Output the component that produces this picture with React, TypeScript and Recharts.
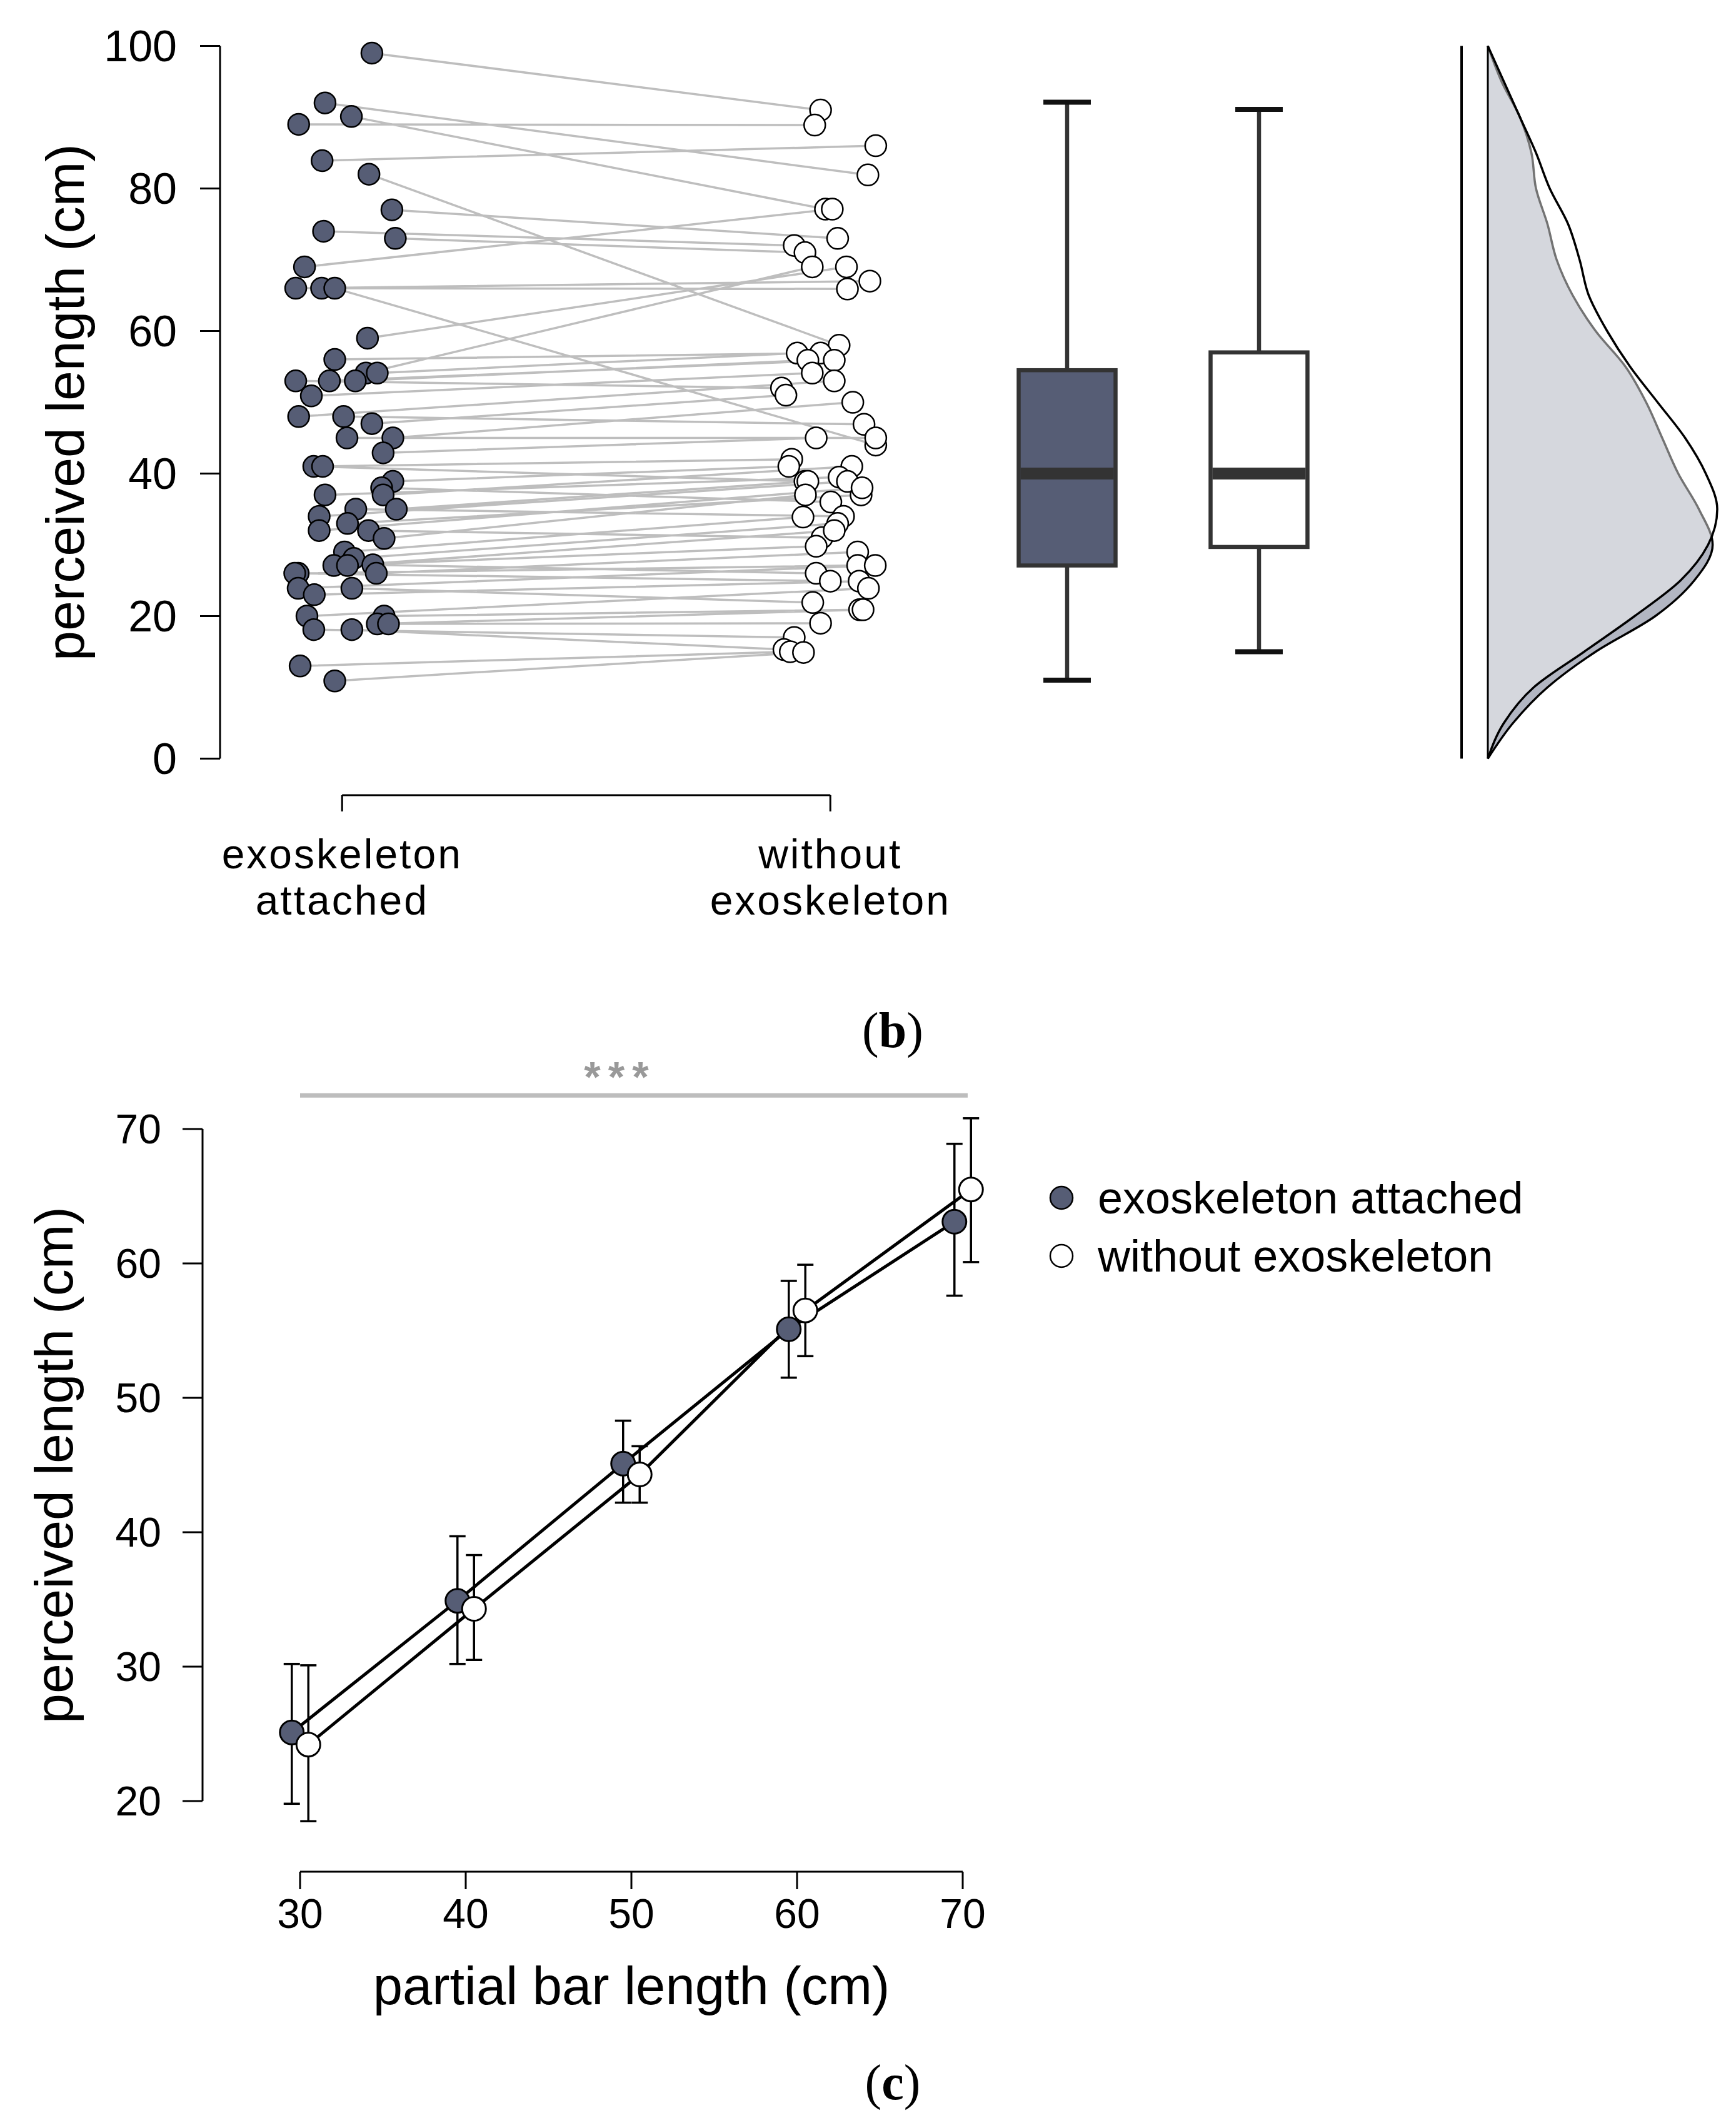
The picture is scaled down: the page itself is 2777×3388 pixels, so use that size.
import React from 'react';
import {
  ComposedChart,
  Line,
  Scatter,
  Bar,
  Area,
  XAxis,
  YAxis,
  ErrorBar,
  ReferenceLine,
  Legend,
  Label,
} from 'recharts';

// ---- panel (b): one pair of answers per participant ----
const conditions = ['exoskeleton attached', 'without exoskeleton'];
const conditionFills = ['#565d75', '#ffffff'];
const lengthTicks = [0, 20, 40, 60, 80, 100];

const exoValues = [
  99, 92, 90.1, 89, 83.9, 82, 77, 74, 73, 69, 66, 66, 66, 59, 56, 54.1, 54.1, 53, 53, 53,
  50.9, 48, 48, 47, 45, 45, 42.9, 41, 41, 38.9, 38, 37, 37, 35, 35, 34, 33, 32, 32, 30.9,
  29, 28.1, 27.1, 27.1, 27.2, 26, 26, 26, 23.9, 23.9, 23, 20, 20, 18.9, 18.9, 18.1, 18.1, 13, 10.9,
];
const exoJitter = [
  0.061, -0.035, 0.019, -0.089, -0.041, 0.055, 0.102, -0.038, 0.109, -0.077, -0.095, -0.042,
  -0.015, 0.052, -0.015, 0.049, 0.072, -0.095, -0.026, 0.027, -0.063, -0.089, 0.003, 0.061,
  0.104, 0.01, 0.084, -0.058, -0.04, 0.104, 0.081, 0.084, -0.035, 0.111, 0.028, -0.047, 0.011,
  -0.047, 0.054, 0.086, 0.005, 0.024, -0.017, 0.011, 0.063, 0.07, -0.09, -0.097, -0.09, 0.02,
  -0.057, -0.072, 0.086, 0.072, 0.095, -0.058, 0.02, -0.086, -0.015,
];
const withoutValues = [
  91, 81.9, 77.1, 88.9, 86, 58, 73, 72, 71, 77.1, 67, 65.9, 44, 69, 56.9, 69, 56.9, 52, 55.9,
  55.9, 54.1, 53, 46.9, 51, 50, 45, 45, 38.9, 42, 41, 36, 41, 39.5, 38.9, 34, 38.9, 37, 38, 31,
  37, 33.9, 33, 29.8, 32, 26, 29, 27.1, 24.9, 27.1, 21.9, 24.9, 23.9, 20.9, 20.9, 19, 17, 15.3,
  15, 14.9,
];
const withoutJitter = [
  -0.02, 0.077, -0.01, -0.032, 0.093, 0.018, 0.015, -0.074, -0.052, 0.004, 0.081, 0.035, 0.093,
  0.033, -0.02, -0.037, -0.068, -0.1, 0.008, -0.046, -0.037, 0.008, 0.069, -0.091, 0.046, 0.093,
  -0.029, -0.052, -0.079, -0.085, 0.001, 0.044, 0.018, -0.046, 0.027, 0.035, 0.063, 0.065,
  -0.017, -0.051, -0.056, 0.015, -0.029, 0.008, -0.029, 0.056, 0.056, 0, 0.092, -0.036, 0.059,
  0.078, 0.06, 0.067, -0.02, -0.074, -0.095, -0.082, -0.055,
];

// box plot summaries
const boxMin = [11, 15];
const boxQ1 = [27.1, 29.7];
const boxMedian = [40, 40];
const boxQ3 = [54.5, 57];
const boxMax = [92.1, 91.1];

// density estimates (relative height)
const densityLevels = [0, 5, 10, 15, 20, 25, 30, 35, 40, 45, 50, 55, 60, 65, 70, 75, 80, 85, 90, 95, 100];
const exoDensity = [0, 0.11, 0.26, 0.47, 0.73, 0.9, 0.98, 0.92, 0.83, 0.76, 0.69, 0.6, 0.47, 0.37, 0.3, 0.26, 0.21, 0.19, 0.14, 0.06, 0];
const withoutDensity = [0, 0.07, 0.2, 0.42, 0.64, 0.84, 0.96, 1.0, 0.95, 0.86, 0.74, 0.62, 0.52, 0.44, 0.4, 0.35, 0.27, 0.21, 0.14, 0.07, 0];

// ---- panel (c): means with error bars ----
const barLengths = [30, 40, 50, 60, 70];
const perceivedTicks = [20, 30, 40, 50, 60, 70];
const exoMeans = [25.1, 34.9, 45.1, 55.1, 63.1];
const exoLow = [19.8, 30.2, 42.2, 51.5, 57.6];
const exoHigh = [30.2, 39.7, 48.3, 58.7, 68.9];
const withoutMeans = [24.2, 34.3, 44.3, 56.5, 65.5];
const withoutLow = [18.5, 30.5, 42.2, 53.1, 60.1];
const withoutHigh = [30.1, 38.3, 46.4, 59.9, 70.8];
const dodge = 0.5;
const sigSpan = [30, 70.3];
const sigLevel = 72.5;

const FONT = '"Liberation Sans", Arial, sans-serif';
const axisStroke = { stroke: '#000', strokeWidth: 3 };

const yTitle = (x: number, size: number) => (props: any) => {
  const vb = props.viewBox || { y: 0, height: 0 };
  const cy = vb.y + vb.height / 2;
  return (
    <text x={x} y={cy} transform={`rotate(-90, ${x}, ${cy})`} textAnchor="middle" dominantBaseline="central" fontSize={size} fill="#000">
      perceived length (cm)
    </text>
  );
};

function CategoryTick(props: any) {
  const { x, y, payload } = props;
  const words = conditions[Math.round(payload.value) - 1].split(' ');
  return (
    <g>
      <text x={x} y={y + 89} textAnchor="middle" fontSize={66} letterSpacing={3} fill="#000">{words[0]}</text>
      <text x={x} y={y + 163} textAnchor="middle" fontSize={66} letterSpacing={3} fill="#000">{words[1]}</text>
    </g>
  );
}

function BoxShape(props: any) {
  const { x, y, width, height, index, payload } = props;
  const top = Math.min(y, y + height);
  const h = Math.abs(height);
  const [lo, hi] = payload.range;
  const py = (v: number) => top + (h * (hi - v)) / (hi - lo);
  const cx = x + width / 2;
  const cap = width * 0.245;
  return (
    <g>
      <line x1={cx} x2={cx} y1={py(hi)} y2={py(payload.q3)} stroke="#333" strokeWidth={6.5} />
      <line x1={cx} x2={cx} y1={py(payload.q1)} y2={py(lo)} stroke="#333" strokeWidth={6.5} />
      <line x1={cx - cap} x2={cx + cap} y1={py(hi)} y2={py(hi)} stroke="#111" strokeWidth={8} />
      <line x1={cx - cap} x2={cx + cap} y1={py(lo)} y2={py(lo)} stroke="#111" strokeWidth={8} />
      <rect x={x} y={py(payload.q3)} width={width} height={py(payload.q1) - py(payload.q3)} fill={conditionFills[index]} stroke="#333" strokeWidth={6.5} />
      <line x1={x + 3} x2={x + width - 3} y1={py(payload.median)} y2={py(payload.median)} stroke="#333" strokeWidth={19} />
    </g>
  );
}

const dotShape = (fill: string) => (p: any) => (
  <circle cx={p.cx} cy={p.cy} r={17} fill={fill} stroke="#000" strokeWidth={2.5} />
);

function renderLegend(props: any) {
  const payload = props.payload || [];
  return (
    <div>
      {payload.map((entry: any, i: number) => (
        <div key={i} style={{ display: 'flex', alignItems: 'center', height: 93 }}>
          <svg width={40} height={40}>
            <circle cx={20} cy={20} r={18} fill={conditionFills[conditions.indexOf(entry.value)]} stroke="#000" strokeWidth={2.5} />
          </svg>
          <span style={{ marginLeft: 38, fontSize: 72, color: '#000', lineHeight: 1, whiteSpace: 'nowrap' }}>{entry.value}</span>
        </div>
      ))}
    </div>
  );
}

function PanelB() {
  const pairPath = exoValues.flatMap((v, i) => [
    { x: 1 + exoJitter[i], y: v },
    { x: 2 + withoutJitter[i], y: withoutValues[i] },
    { x: 2 + withoutJitter[i], y: null },
  ]);
  const exoPoints = exoValues.map((v, i) => ({ x: 1 + exoJitter[i], y: v }));
  const withoutPoints = withoutValues.map((v, i) => ({ x: 2 + withoutJitter[i], y: v }));
  const boxData = conditions.map((name, i) => ({
    name,
    range: [boxMin[i], boxMax[i]],
    q1: boxQ1[i],
    median: boxMedian[i],
    q3: boxQ3[i],
  }));
  const densityData = densityLevels.map((v, i) => ({ v, exo: exoDensity[i], without: withoutDensity[i] }));

  return (
    <>
      {/* paired dots */}
      <div style={{ position: 'absolute', left: 0, top: 0 }}>
        <ComposedChart width={1600} height={1400} margin={{ top: 73.5, right: 76.5, bottom: 186.5, left: 0 }}>
          <XAxis type="number" dataKey="x" domain={[0.75, 2.25]} hide />
          <YAxis
            type="number"
            dataKey="y"
            domain={[0, 100]}
            ticks={lengthTicks}
            width={352}
            tickSize={32}
            tickMargin={37}
            axisLine={axisStroke}
            tickLine={axisStroke}
            tick={{ fill: '#000', fontSize: 70 }}
          >
            <Label content={yTitle(104, 86)} />
          </YAxis>
          <Line data={pairPath} dataKey="y" stroke="#bebebe" strokeWidth={3.5} dot={false} connectNulls={false} isAnimationActive={false} />
          <Scatter data={exoPoints} fill={conditionFills[0]} shape={dotShape(conditionFills[0])} isAnimationActive={false} />
          <Scatter data={withoutPoints} fill={conditionFills[1]} shape={dotShape(conditionFills[1])} isAnimationActive={false} />
        </ComposedChart>
      </div>

      {/* condition axis */}
      <div style={{ position: 'absolute', left: 0, top: 0 }}>
        <ComposedChart width={1600} height={1500} data={[{ c: 1 }, { c: 2 }]} margin={{ top: 1200, right: 271.75, bottom: 0, left: 547.25 }}>
          <XAxis
            type="number"
            dataKey="c"
            domain={[1, 2]}
            ticks={[1, 2]}
            interval={0}
            height={228}
            tickSize={26}
            axisLine={axisStroke}
            tickLine={axisStroke}
            tick={<CategoryTick />}
          />
          <YAxis hide />
        </ComposedChart>
      </div>

      {/* box plots */}
      <div style={{ position: 'absolute', left: 1500, top: 0 }}>
        <ComposedChart width={700} height={1400} data={boxData} margin={{ top: 73.5, right: 32.5, bottom: 186.5, left: 53.5 }}>
          <XAxis dataKey="name" type="category" hide />
          <YAxis type="number" domain={[0, 100]} hide />
          <Bar dataKey="range" barSize={155} shape={BoxShape} isAnimationActive={false} />
        </ComposedChart>
      </div>

      {/* densities */}
      <div style={{ position: 'absolute', left: 2200, top: 0 }}>
        <ComposedChart layout="vertical" width={577} height={1400} data={densityData} margin={{ top: 73.5, right: 30, bottom: 186.5, left: 137 }}>
          <XAxis type="number" domain={[0, 1]} padding={{ left: 42, right: 0 }} hide />
          <YAxis
            type="number"
            dataKey="v"
            domain={[0, 100]}
            reversed
            width={1}
            tick={false}
            tickLine={false}
            axisLine={{ stroke: '#000', strokeWidth: 4 }}
          />
          <Area dataKey="exo" type="monotone" fill="#b2b6c2" fillOpacity={1} stroke="#000" strokeWidth={3.5} isAnimationActive={false} />
          <Area dataKey="without" type="monotone" fill="#ffffff" fillOpacity={0.45} stroke="#000" strokeWidth={3.5} isAnimationActive={false} />
          <ReferenceLine x={0} stroke="#000" strokeWidth={3} />
        </ComposedChart>
      </div>
    </>
  );
}

function PanelC() {
  const exoSeries = barLengths.map((b, i) => ({
    x: b - dodge,
    y: exoMeans[i],
    err: [exoMeans[i] - exoLow[i], exoHigh[i] - exoMeans[i]],
  }));
  const withoutSeries = barLengths.map((b, i) => ({
    x: b + dodge,
    y: withoutMeans[i],
    err: [withoutMeans[i] - withoutLow[i], withoutHigh[i] - withoutMeans[i]],
  }));

  return (
    <>
      {/* data */}
      <div style={{ position: 'absolute', left: 0, top: 1500 }}>
        <ComposedChart width={1700} height={1600} margin={{ top: 198.5, right: 54, bottom: 111.5, left: 374 }}>
          <XAxis type="number" dataKey="x" domain={[26, 74]} hide />
          <YAxis type="number" dataKey="y" domain={[15, 75]} hide />
          <ReferenceLine
            segment={[{ x: sigSpan[0], y: sigLevel }, { x: sigSpan[1], y: sigLevel }]}
            stroke="#bdbdbd"
            strokeWidth={7}
            label={{
              content: (p: any) => {
                const vb = p.viewBox || { x: 0, y: 0, width: 0 };
                return (
                  <text x={vb.x + vb.width / 2 - 22} y={vb.y - 6} textAnchor="middle" fontSize={68} letterSpacing={12} fill="#999" fontWeight="bold">
                    ***
                  </text>
                );
              },
            }}
          />
          <Line
            data={exoSeries}
            dataKey="y"
            name={conditions[0]}
            stroke="#000"
            strokeWidth={5}
            dot={{ r: 19, fill: conditionFills[0], stroke: '#000', strokeWidth: 3 }}
            isAnimationActive={false}
          >
            <ErrorBar dataKey="err" direction="y" width={13} stroke="#000" strokeWidth={3.5} />
          </Line>
          <Line
            data={withoutSeries}
            dataKey="y"
            name={conditions[1]}
            stroke="#000"
            strokeWidth={5}
            dot={{ r: 19, fill: conditionFills[1], stroke: '#000', strokeWidth: 3 }}
            isAnimationActive={false}
          >
            <ErrorBar dataKey="err" direction="y" width={13} stroke="#000" strokeWidth={3.5} />
          </Line>
          <Legend
            layout="vertical"
            align="center"
            verticalAlign="middle"
            wrapperStyle={{ left: 1678, top: 369.5, width: 'auto', height: 'auto' }}
            content={renderLegend}
          />
        </ComposedChart>
      </div>

      {/* y axis */}
      <div style={{ position: 'absolute', left: 0, top: 1500 }}>
        <ComposedChart width={600} height={1600} data={perceivedTicks.map((t) => ({ t }))} margin={{ top: 306, right: 100, bottom: 219, left: 0 }}>
          <XAxis type="number" domain={[0, 1]} hide />
          <YAxis
            type="number"
            dataKey="t"
            domain={[20, 70]}
            ticks={perceivedTicks}
            width={324}
            tickSize={32}
            tickMargin={34}
            axisLine={axisStroke}
            tickLine={axisStroke}
            tick={{ fill: '#000', fontSize: 66 }}
          >
            <Label content={yTitle(86, 86)} />
          </YAxis>
        </ComposedChart>
      </div>

      {/* x axis */}
      <div style={{ position: 'absolute', left: 0, top: 1500 }}>
        <ComposedChart width={1700} height={1800} data={barLengths.map((b) => ({ b }))} margin={{ top: 1300, right: 160, bottom: 0, left: 480 }}>
          <XAxis
            type="number"
            dataKey="b"
            domain={[30, 70]}
            ticks={barLengths}
            interval={0}
            height={306}
            tickSize={28}
            tickMargin={15}
            axisLine={axisStroke}
            tickLine={axisStroke}
            tick={{ fill: '#000', fontSize: 66 }}
          >
            <Label
              content={(p: any) => {
                const vb = p.viewBox || { x: 0, y: 0, width: 0 };
                return (
                  <text x={vb.x + vb.width / 2} y={vb.y + 212} textAnchor="middle" fontSize={85} fill="#000">
                    partial bar length (cm)
                  </text>
                );
              }}
            />
          </XAxis>
          <YAxis hide />
        </ComposedChart>
      </div>
    </>
  );
}

const letterStyle: React.CSSProperties = {
  position: 'absolute',
  transform: 'translate(-50%, -50%)',
  fontFamily: '"Liberation Serif", "Times New Roman", serif',
  fontSize: 80,
  color: '#000',
  whiteSpace: 'nowrap',
};

export default function App() {
  return (
    <div style={{ position: 'absolute', left: 0, top: 0, width: 2777, height: 3388, background: '#fff', fontFamily: FONT, overflow: 'hidden' }}>
      <PanelB />
      <PanelC />
      <div style={{ ...letterStyle, left: 1428, top: 1648 }}>
        (<b>b</b>)
      </div>
      <div style={{ ...letterStyle, left: 1428, top: 3331 }}>
        (<b>c</b>)
      </div>
    </div>
  );
}
